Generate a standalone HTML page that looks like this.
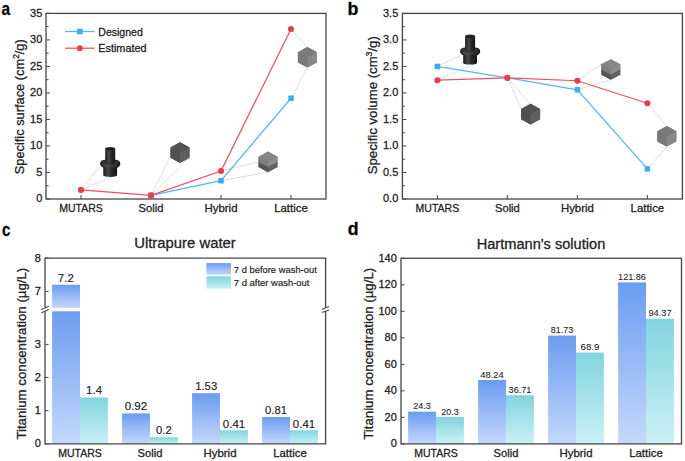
<!DOCTYPE html>
<html><head><meta charset="utf-8"><style>html,body{margin:0;padding:0;background:#fff;}body{width:685px;height:461px;overflow:hidden;font-family:"Liberation Sans",sans-serif;}svg{display:block;} text{stroke:#222;stroke-width:0.28px;}</style></head><body>
<svg width="685" height="461" viewBox="0 0 685 461" font-family="&quot;Liberation Sans&quot;, sans-serif">
<defs><linearGradient id="gb" x1="0" y1="0" x2="0" y2="1"><stop offset="0" stop-color="#6b9cf0"/><stop offset="1" stop-color="#c4d8fc"/></linearGradient><linearGradient id="gt" x1="0" y1="0" x2="0" y2="1"><stop offset="0" stop-color="#82d4df"/><stop offset="1" stop-color="#c9f1f4"/></linearGradient><linearGradient id="cyl" x1="0" y1="0" x2="1" y2="0"><stop offset="0" stop-color="#1c1c1c"/><stop offset="0.35" stop-color="#4a4a4a"/><stop offset="0.6" stop-color="#2a2a2a"/><stop offset="1" stop-color="#141414"/></linearGradient></defs>
<rect width="685" height="461" fill="#fff"/>
<text x="1.5" y="15.4" font-size="17.8" text-anchor="start" font-weight="bold" textLength="8.6" lengthAdjust="spacingAndGlyphs" fill="#000">a</text>
<rect x="46.0" y="13.4" width="280.0" height="185.6" fill="none" stroke="#454545" stroke-width="1.3"/>
<line x1="46.0" y1="199.0" x2="50.0" y2="199.0" stroke="#454545" stroke-width="1.0"/>
<text x="42.3" y="202.4" font-size="11" text-anchor="end" fill="#222">0</text>
<line x1="46.0" y1="185.74285714285713" x2="48.5" y2="185.74285714285713" stroke="#454545" stroke-width="1.0"/>
<line x1="46.0" y1="172.4857142857143" x2="50.0" y2="172.4857142857143" stroke="#454545" stroke-width="1.0"/>
<text x="42.3" y="175.8857142857143" font-size="11" text-anchor="end" fill="#222">5</text>
<line x1="46.0" y1="159.22857142857143" x2="48.5" y2="159.22857142857143" stroke="#454545" stroke-width="1.0"/>
<line x1="46.0" y1="145.9714285714286" x2="50.0" y2="145.9714285714286" stroke="#454545" stroke-width="1.0"/>
<text x="42.3" y="149.3714285714286" font-size="11" text-anchor="end" fill="#222">10</text>
<line x1="46.0" y1="132.71428571428572" x2="48.5" y2="132.71428571428572" stroke="#454545" stroke-width="1.0"/>
<line x1="46.0" y1="119.45714285714286" x2="50.0" y2="119.45714285714286" stroke="#454545" stroke-width="1.0"/>
<text x="42.3" y="122.85714285714286" font-size="11" text-anchor="end" fill="#222">15</text>
<line x1="46.0" y1="106.2" x2="48.5" y2="106.2" stroke="#454545" stroke-width="1.0"/>
<line x1="46.0" y1="92.94285714285715" x2="50.0" y2="92.94285714285715" stroke="#454545" stroke-width="1.0"/>
<text x="42.3" y="96.34285714285716" font-size="11" text-anchor="end" fill="#222">20</text>
<line x1="46.0" y1="79.6857142857143" x2="48.5" y2="79.6857142857143" stroke="#454545" stroke-width="1.0"/>
<line x1="46.0" y1="66.42857142857144" x2="50.0" y2="66.42857142857144" stroke="#454545" stroke-width="1.0"/>
<text x="42.3" y="69.82857142857145" font-size="11" text-anchor="end" fill="#222">25</text>
<line x1="46.0" y1="53.17142857142858" x2="48.5" y2="53.17142857142858" stroke="#454545" stroke-width="1.0"/>
<line x1="46.0" y1="39.91428571428571" x2="50.0" y2="39.91428571428571" stroke="#454545" stroke-width="1.0"/>
<text x="42.3" y="43.31428571428571" font-size="11" text-anchor="end" fill="#222">30</text>
<line x1="46.0" y1="26.657142857142873" x2="48.5" y2="26.657142857142873" stroke="#454545" stroke-width="1.0"/>
<line x1="46.0" y1="13.400000000000006" x2="50.0" y2="13.400000000000006" stroke="#454545" stroke-width="1.0"/>
<text x="42.3" y="16.800000000000004" font-size="11" text-anchor="end" fill="#222">35</text>
<line x1="81.0" y1="199.0" x2="81.0" y2="195.0" stroke="#454545" stroke-width="1.0"/>
<line x1="151.0" y1="199.0" x2="151.0" y2="195.0" stroke="#454545" stroke-width="1.0"/>
<line x1="221.0" y1="199.0" x2="221.0" y2="195.0" stroke="#454545" stroke-width="1.0"/>
<line x1="291.0" y1="199.0" x2="291.0" y2="195.0" stroke="#454545" stroke-width="1.0"/>
<line x1="81.0" y1="189.8790857142857" x2="100.2" y2="166.2" stroke="#b4b4b4" stroke-width="0.7" stroke-dasharray="1.6 0.9"/>
<line x1="81.0" y1="189.8790857142857" x2="111.9" y2="176.9" stroke="#b4b4b4" stroke-width="0.7" stroke-dasharray="1.6 0.9"/>
<line x1="151.0" y1="195.39405714285715" x2="170.8" y2="155.6" stroke="#b4b4b4" stroke-width="0.7" stroke-dasharray="1.6 0.9"/>
<line x1="151.0" y1="195.39405714285715" x2="188.9" y2="157.8" stroke="#b4b4b4" stroke-width="0.7" stroke-dasharray="1.6 0.9"/>
<line x1="221.0" y1="171.0009142857143" x2="258.5" y2="162.0" stroke="#b4b4b4" stroke-width="0.7" stroke-dasharray="1.6 0.9"/>
<line x1="221.0" y1="180.70514285714285" x2="268.0" y2="172.0" stroke="#b4b4b4" stroke-width="0.7" stroke-dasharray="1.6 0.9"/>
<line x1="291.0" y1="28.990399999999994" x2="307.1" y2="47.0" stroke="#b4b4b4" stroke-width="0.7" stroke-dasharray="1.6 0.9"/>
<line x1="291.0" y1="98.24571428571429" x2="307.1" y2="67.9" stroke="#b4b4b4" stroke-width="0.7" stroke-dasharray="1.6 0.9"/>
<rect x="103.30" y="165.80" width="13.8" height="9.5" fill="url(#cyl)"/>
<ellipse cx="110.20" cy="175.30" rx="6.9" ry="1.6" fill="url(#cyl)"/>
<rect x="100.10" y="159.70" width="20.2" height="8.1" rx="5" ry="4" fill="url(#cyl)"/>
<ellipse cx="110.20" cy="162.20" rx="8.6" ry="2.3" fill="#333"/>
<path d="M101.70,164.00 Q110.20,168.40 118.70,164.00" fill="none" stroke="#5a5a5a" stroke-width="0.6"/>
<rect x="105.20" y="148.60" width="10" height="13.4" fill="url(#cyl)"/>
<ellipse cx="110.20" cy="162.00" rx="5" ry="1.4" fill="url(#cyl)"/>
<ellipse cx="110.20" cy="148.70" rx="5" ry="1.8" fill="#2e2e2e"/>
<ellipse cx="110.20" cy="148.90" rx="3.6" ry="1.1" fill="#1e1e1e"/>
<polygon points="180.00,142.30 189.50,147.45 189.50,157.75 180.00,162.90 170.50,157.75 170.50,147.45" fill="#505050"/>
<polygon points="180.00,142.30 189.50,147.45 180.00,152.60 170.50,147.45" fill="#525252"/>
<polygon points="170.50,147.45 180.00,152.60 180.00,162.90 170.50,157.75" fill="#505050"/>
<polygon points="180.00,152.60 189.50,147.45 189.50,157.75 180.00,162.90" fill="#5f5f5f"/>
<polygon points="268.00,151.60 277.50,156.75 277.50,167.05 268.00,172.20 258.50,167.05 258.50,156.75" fill="#7e7e7e"/>
<polygon points="268.00,151.60 277.50,156.75 268.00,161.90 258.50,156.75" fill="#878787"/>
<polygon points="258.50,156.75 268.00,161.90 268.00,167.05 258.50,161.90" fill="#7e7e7e"/>
<polygon points="268.00,161.90 277.50,156.75 277.50,161.90 268.00,167.05" fill="#8c8c8c"/>
<polygon points="258.50,161.90 268.00,167.05 268.00,172.20 258.50,167.05" fill="#555555"/>
<polygon points="268.00,167.05 277.50,161.90 277.50,167.05 268.00,172.20" fill="#626262"/>
<polygon points="307.40,47.00 316.90,52.15 316.90,62.45 307.40,67.60 297.90,62.45 297.90,52.15" fill="#7a7a7a"/>
<polygon points="307.40,47.00 316.90,52.15 307.40,57.30 297.90,52.15" fill="#7a7a7a"/>
<polygon points="297.90,52.15 307.40,57.30 307.40,67.60 297.90,62.45" fill="#787878"/>
<polygon points="307.40,57.30 316.90,52.15 316.90,62.45 307.40,67.60" fill="#888888"/>
<polyline points="151.00,195.39 221.00,180.71 291.00,98.25" fill="none" stroke="#50b8f8" stroke-width="1.25"/>
<rect x="148.25" y="192.64" width="5.5" height="5.5" fill="#3aabf5"/>
<rect x="218.25" y="177.96" width="5.5" height="5.5" fill="#3aabf5"/>
<rect x="288.25" y="95.50" width="5.5" height="5.5" fill="#3aabf5"/>
<polyline points="81.00,189.88 151.00,195.39 221.00,171.00 291.00,28.99" fill="none" stroke="#f0505a" stroke-width="1.25"/>
<circle cx="81.00" cy="189.88" r="3.05" fill="#ef3b45"/>
<circle cx="151.00" cy="195.39" r="3.05" fill="#ef3b45"/>
<circle cx="221.00" cy="171.00" r="3.05" fill="#ef3b45"/>
<circle cx="291.00" cy="28.99" r="3.05" fill="#ef3b45"/>
<text x="81.0" y="212.0" font-size="11" text-anchor="middle" textLength="43.6" lengthAdjust="spacingAndGlyphs" fill="#222">MUTARS</text>
<text x="151.0" y="212.0" font-size="11" text-anchor="middle" textLength="24.8" lengthAdjust="spacingAndGlyphs" fill="#222">Solid</text>
<text x="221.0" y="212.0" font-size="11" text-anchor="middle" textLength="33.0" lengthAdjust="spacingAndGlyphs" fill="#222">Hybrid</text>
<text x="291.0" y="212.0" font-size="11" text-anchor="middle" textLength="33.6" lengthAdjust="spacingAndGlyphs" fill="#222">Lattice</text>
<line x1="65" y1="31.5" x2="94.7" y2="31.5" stroke="#50b8f8" stroke-width="1.25"/>
<rect x="77.10000000000001" y="28.7" width="5.6" height="5.6" fill="#3aabf5"/>
<line x1="65" y1="48.2" x2="94.7" y2="48.2" stroke="#f0505a" stroke-width="1.25"/>
<circle cx="79.9" cy="48.2" r="2.9" fill="#ef3b45"/>
<text x="98.3" y="35.7" font-size="11" text-anchor="start" textLength="44.5" lengthAdjust="spacingAndGlyphs" fill="#222">Designed</text>
<text x="98.3" y="52.4" font-size="11" text-anchor="start" textLength="48.2" lengthAdjust="spacingAndGlyphs" fill="#222">Estimated</text>
<text transform="translate(23.7,106.75) rotate(-90)" font-size="13" text-anchor="middle" textLength="135" lengthAdjust="spacingAndGlyphs" fill="#222">Specific surface (cm<tspan font-size="8.5" dy="-4.8">2</tspan><tspan dy="4.8">/g)</tspan></text>
<text x="347.4" y="14.8" font-size="17.8" text-anchor="start" font-weight="bold" fill="#000">b</text>
<rect x="402.4" y="13.4" width="280.0" height="185.6" fill="none" stroke="#454545" stroke-width="1.3"/>
<line x1="402.4" y1="199.0" x2="406.4" y2="199.0" stroke="#454545" stroke-width="1.0"/>
<text x="398.3" y="202.4" font-size="11" text-anchor="end" fill="#222">0.0</text>
<line x1="402.4" y1="185.74285714285713" x2="404.9" y2="185.74285714285713" stroke="#454545" stroke-width="1.0"/>
<line x1="402.4" y1="172.4857142857143" x2="406.4" y2="172.4857142857143" stroke="#454545" stroke-width="1.0"/>
<text x="398.3" y="175.8857142857143" font-size="11" text-anchor="end" fill="#222">0.5</text>
<line x1="402.4" y1="159.22857142857143" x2="404.9" y2="159.22857142857143" stroke="#454545" stroke-width="1.0"/>
<line x1="402.4" y1="145.9714285714286" x2="406.4" y2="145.9714285714286" stroke="#454545" stroke-width="1.0"/>
<text x="398.3" y="149.3714285714286" font-size="11" text-anchor="end" fill="#222">1.0</text>
<line x1="402.4" y1="132.71428571428572" x2="404.9" y2="132.71428571428572" stroke="#454545" stroke-width="1.0"/>
<line x1="402.4" y1="119.45714285714286" x2="406.4" y2="119.45714285714286" stroke="#454545" stroke-width="1.0"/>
<text x="398.3" y="122.85714285714286" font-size="11" text-anchor="end" fill="#222">1.5</text>
<line x1="402.4" y1="106.2" x2="404.9" y2="106.2" stroke="#454545" stroke-width="1.0"/>
<line x1="402.4" y1="92.94285714285715" x2="406.4" y2="92.94285714285715" stroke="#454545" stroke-width="1.0"/>
<text x="398.3" y="96.34285714285716" font-size="11" text-anchor="end" fill="#222">2.0</text>
<line x1="402.4" y1="79.6857142857143" x2="404.9" y2="79.6857142857143" stroke="#454545" stroke-width="1.0"/>
<line x1="402.4" y1="66.42857142857144" x2="406.4" y2="66.42857142857144" stroke="#454545" stroke-width="1.0"/>
<text x="398.3" y="69.82857142857145" font-size="11" text-anchor="end" fill="#222">2.5</text>
<line x1="402.4" y1="53.17142857142858" x2="404.9" y2="53.17142857142858" stroke="#454545" stroke-width="1.0"/>
<line x1="402.4" y1="39.91428571428571" x2="406.4" y2="39.91428571428571" stroke="#454545" stroke-width="1.0"/>
<text x="398.3" y="43.31428571428571" font-size="11" text-anchor="end" fill="#222">3.0</text>
<line x1="402.4" y1="26.657142857142873" x2="404.9" y2="26.657142857142873" stroke="#454545" stroke-width="1.0"/>
<line x1="402.4" y1="13.400000000000006" x2="406.4" y2="13.400000000000006" stroke="#454545" stroke-width="1.0"/>
<text x="398.3" y="16.800000000000004" font-size="11" text-anchor="end" fill="#222">3.5</text>
<line x1="437.4" y1="199.0" x2="437.4" y2="195.0" stroke="#454545" stroke-width="1.0"/>
<line x1="507.4" y1="199.0" x2="507.4" y2="195.0" stroke="#454545" stroke-width="1.0"/>
<line x1="577.4" y1="199.0" x2="577.4" y2="195.0" stroke="#454545" stroke-width="1.0"/>
<line x1="647.4" y1="199.0" x2="647.4" y2="195.0" stroke="#454545" stroke-width="1.0"/>
<line x1="437.4" y1="66.42857142857144" x2="461.0" y2="55.5" stroke="#b4b4b4" stroke-width="0.7" stroke-dasharray="1.6 0.9"/>
<line x1="437.4" y1="80.216" x2="474.5" y2="64.0" stroke="#b4b4b4" stroke-width="0.7" stroke-dasharray="1.6 0.9"/>
<line x1="507.4" y1="77.82971428571429" x2="521.5" y2="109.0" stroke="#b4b4b4" stroke-width="0.7" stroke-dasharray="1.6 0.9"/>
<line x1="507.4" y1="77.82971428571429" x2="530.3" y2="104.0" stroke="#b4b4b4" stroke-width="0.7" stroke-dasharray="1.6 0.9"/>
<line x1="577.4" y1="80.74628571428572" x2="601.5" y2="64.2" stroke="#b4b4b4" stroke-width="0.7" stroke-dasharray="1.6 0.9"/>
<line x1="577.4" y1="89.76114285714286" x2="610.9" y2="79.7" stroke="#b4b4b4" stroke-width="0.7" stroke-dasharray="1.6 0.9"/>
<line x1="647.4" y1="103.2304" x2="667.0" y2="126.6" stroke="#b4b4b4" stroke-width="0.7" stroke-dasharray="1.6 0.9"/>
<line x1="647.4" y1="168.93280000000001" x2="667.0" y2="146.6" stroke="#b4b4b4" stroke-width="0.7" stroke-dasharray="1.6 0.9"/>
<rect x="463.20" y="53.50" width="13.8" height="9.5" fill="url(#cyl)"/>
<ellipse cx="470.10" cy="63.00" rx="6.9" ry="1.6" fill="url(#cyl)"/>
<rect x="460.00" y="47.40" width="20.2" height="8.1" rx="5" ry="4" fill="url(#cyl)"/>
<ellipse cx="470.10" cy="49.90" rx="8.6" ry="2.3" fill="#333"/>
<path d="M461.60,51.70 Q470.10,56.10 478.60,51.70" fill="none" stroke="#5a5a5a" stroke-width="0.6"/>
<rect x="465.10" y="36.30" width="10" height="13.4" fill="url(#cyl)"/>
<ellipse cx="470.10" cy="49.70" rx="5" ry="1.4" fill="url(#cyl)"/>
<ellipse cx="470.10" cy="36.40" rx="5" ry="1.8" fill="#2e2e2e"/>
<ellipse cx="470.10" cy="36.60" rx="3.6" ry="1.1" fill="#1e1e1e"/>
<polygon points="530.60,103.80 540.10,108.95 540.10,119.25 530.60,124.40 521.10,119.25 521.10,108.95" fill="#505050"/>
<polygon points="530.60,103.80 540.10,108.95 530.60,114.10 521.10,108.95" fill="#525252"/>
<polygon points="521.10,108.95 530.60,114.10 530.60,124.40 521.10,119.25" fill="#505050"/>
<polygon points="530.60,114.10 540.10,108.95 540.10,119.25 530.60,124.40" fill="#5f5f5f"/>
<polygon points="610.80,59.20 620.30,64.35 620.30,74.65 610.80,79.80 601.30,74.65 601.30,64.35" fill="#7e7e7e"/>
<polygon points="610.80,59.20 620.30,64.35 610.80,69.50 601.30,64.35" fill="#878787"/>
<polygon points="601.30,64.35 610.80,69.50 610.80,74.65 601.30,69.50" fill="#7e7e7e"/>
<polygon points="610.80,69.50 620.30,64.35 620.30,69.50 610.80,74.65" fill="#8c8c8c"/>
<polygon points="601.30,69.50 610.80,74.65 610.80,79.80 601.30,74.65" fill="#555555"/>
<polygon points="610.80,74.65 620.30,69.50 620.30,74.65 610.80,79.80" fill="#626262"/>
<polygon points="666.80,126.00 676.30,131.15 676.30,141.45 666.80,146.60 657.30,141.45 657.30,131.15" fill="#7a7a7a"/>
<polygon points="666.80,126.00 676.30,131.15 666.80,136.30 657.30,131.15" fill="#7a7a7a"/>
<polygon points="657.30,131.15 666.80,136.30 666.80,146.60 657.30,141.45" fill="#787878"/>
<polygon points="666.80,136.30 676.30,131.15 676.30,141.45 666.80,146.60" fill="#888888"/>
<polyline points="437.40,66.43 507.40,77.83 577.40,89.76 647.40,168.93" fill="none" stroke="#50b8f8" stroke-width="1.25"/>
<rect x="434.65" y="63.68" width="5.5" height="5.5" fill="#3aabf5"/>
<rect x="504.65" y="75.08" width="5.5" height="5.5" fill="#3aabf5"/>
<rect x="574.65" y="87.01" width="5.5" height="5.5" fill="#3aabf5"/>
<rect x="644.65" y="166.18" width="5.5" height="5.5" fill="#3aabf5"/>
<polyline points="437.40,80.22 507.40,77.83 577.40,80.75 647.40,103.23" fill="none" stroke="#f0505a" stroke-width="1.25"/>
<circle cx="437.40" cy="80.22" r="3.05" fill="#ef3b45"/>
<circle cx="507.40" cy="77.83" r="3.05" fill="#ef3b45"/>
<circle cx="577.40" cy="80.75" r="3.05" fill="#ef3b45"/>
<circle cx="647.40" cy="103.23" r="3.05" fill="#ef3b45"/>
<text x="437.4" y="212.0" font-size="11" text-anchor="middle" textLength="43.6" lengthAdjust="spacingAndGlyphs" fill="#222">MUTARS</text>
<text x="507.4" y="212.0" font-size="11" text-anchor="middle" textLength="24.8" lengthAdjust="spacingAndGlyphs" fill="#222">Solid</text>
<text x="577.4" y="212.0" font-size="11" text-anchor="middle" textLength="33.0" lengthAdjust="spacingAndGlyphs" fill="#222">Hybrid</text>
<text x="647.4" y="212.0" font-size="11" text-anchor="middle" textLength="33.6" lengthAdjust="spacingAndGlyphs" fill="#222">Lattice</text>
<text transform="translate(376.9,105.25) rotate(-90)" font-size="13" text-anchor="middle" textLength="138.1" lengthAdjust="spacingAndGlyphs" fill="#222">Specific volume (cm<tspan font-size="8.5" dy="-4.8">3</tspan><tspan dy="4.8">/g)</tspan></text>
<text x="2.0" y="236.3" font-size="17.8" text-anchor="start" font-weight="bold" textLength="8.4" lengthAdjust="spacingAndGlyphs" fill="#000">c</text>
<text x="185.0" y="248.2" font-size="14" text-anchor="middle" textLength="101.6" lengthAdjust="spacingAndGlyphs" fill="#222">Ultrapure water</text>
<rect x="52.10" y="284.77" width="27.9" height="23.13" fill="url(#gb)"/>
<rect x="52.10" y="311.3" width="27.9" height="132.60" fill="url(#gb)"/>
<rect x="80.00" y="397.46" width="27.9" height="46.44" fill="url(#gt)"/>
<rect x="122.10" y="413.38" width="27.9" height="30.52" fill="url(#gb)"/>
<rect x="150.00" y="437.27" width="27.9" height="6.63" fill="url(#gt)"/>
<rect x="192.10" y="393.15" width="27.9" height="50.75" fill="url(#gb)"/>
<rect x="220.00" y="430.30" width="27.9" height="13.60" fill="url(#gt)"/>
<rect x="262.10" y="417.03" width="27.9" height="26.87" fill="url(#gb)"/>
<rect x="290.00" y="430.30" width="27.9" height="13.60" fill="url(#gt)"/>
<text x="65.8" y="282.2" font-size="10.3" text-anchor="middle" textLength="16.0" lengthAdjust="spacingAndGlyphs" fill="#222" style="stroke-width:0.15px">7.2</text>
<text x="94.1" y="394.3" font-size="10.3" text-anchor="middle" textLength="16.0" lengthAdjust="spacingAndGlyphs" fill="#222" style="stroke-width:0.15px">1.4</text>
<text x="136.0" y="410.0" font-size="10.3" text-anchor="middle" textLength="22.6" lengthAdjust="spacingAndGlyphs" fill="#222" style="stroke-width:0.15px">0.92</text>
<text x="163.9" y="434.1" font-size="10.3" text-anchor="middle" textLength="15.6" lengthAdjust="spacingAndGlyphs" fill="#222" style="stroke-width:0.15px">0.2</text>
<text x="206.2" y="390.0" font-size="10.3" text-anchor="middle" textLength="22.0" lengthAdjust="spacingAndGlyphs" fill="#222" style="stroke-width:0.15px">1.53</text>
<text x="234.0" y="427.7" font-size="10.3" text-anchor="middle" textLength="22.4" lengthAdjust="spacingAndGlyphs" fill="#222" style="stroke-width:0.15px">0.41</text>
<text x="276.0" y="414.2" font-size="10.3" text-anchor="middle" textLength="21.8" lengthAdjust="spacingAndGlyphs" fill="#222" style="stroke-width:0.15px">0.81</text>
<text x="304.0" y="427.7" font-size="10.3" text-anchor="middle" textLength="22.4" lengthAdjust="spacingAndGlyphs" fill="#222" style="stroke-width:0.15px">0.41</text>
<path d="M45.0,307.1 L45.0,443.9 L325.6,443.9 L325.6,311.3 M325.6,307.4 L325.6,258.2 L45.0,258.2 L45.0,307.1" fill="none" stroke="#454545" stroke-width="1.3"/>
<rect x="44.0" y="307.2" width="2" height="4" fill="#fff"/>
<line x1="41.3" y1="309.5" x2="48.8" y2="306.3" stroke="#454545" stroke-width="1.1"/>
<line x1="41.3" y1="312.7" x2="48.8" y2="309.6" stroke="#454545" stroke-width="1.1"/>
<line x1="322.0" y1="309.4" x2="328.9" y2="306.5" stroke="#454545" stroke-width="1.1"/>
<line x1="322.0" y1="312.4" x2="328.9" y2="310.0" stroke="#454545" stroke-width="1.1"/>
<line x1="45.0" y1="443.9" x2="48.5" y2="443.9" stroke="#454545" stroke-width="1.0"/>
<text x="40.8" y="447.29999999999995" font-size="11" text-anchor="end" fill="#222">0</text>
<line x1="45.0" y1="410.72999999999996" x2="48.5" y2="410.72999999999996" stroke="#454545" stroke-width="1.0"/>
<text x="40.8" y="414.12999999999994" font-size="11" text-anchor="end" fill="#222">1</text>
<line x1="45.0" y1="377.55999999999995" x2="48.5" y2="377.55999999999995" stroke="#454545" stroke-width="1.0"/>
<text x="40.8" y="380.9599999999999" font-size="11" text-anchor="end" fill="#222">2</text>
<line x1="45.0" y1="344.39" x2="48.5" y2="344.39" stroke="#454545" stroke-width="1.0"/>
<text x="40.8" y="347.78999999999996" font-size="11" text-anchor="end" fill="#222">3</text>
<line x1="45.0" y1="291.4" x2="48.5" y2="291.4" stroke="#454545" stroke-width="1.0"/>
<text x="40.8" y="294.79999999999995" font-size="11" text-anchor="end" fill="#222">7</text>
<line x1="45.0" y1="258.22999999999996" x2="48.5" y2="258.22999999999996" stroke="#454545" stroke-width="1.0"/>
<text x="40.8" y="261.62999999999994" font-size="11" text-anchor="end" fill="#222">8</text>
<text x="80.0" y="456.5" font-size="11" text-anchor="middle" textLength="43.6" lengthAdjust="spacingAndGlyphs" fill="#222">MUTARS</text>
<text x="150.0" y="456.5" font-size="11" text-anchor="middle" textLength="24.8" lengthAdjust="spacingAndGlyphs" fill="#222">Solid</text>
<text x="220.0" y="456.5" font-size="11" text-anchor="middle" textLength="33.0" lengthAdjust="spacingAndGlyphs" fill="#222">Hybrid</text>
<text x="290.0" y="456.5" font-size="11" text-anchor="middle" textLength="33.6" lengthAdjust="spacingAndGlyphs" fill="#222">Lattice</text>
<rect x="206.4" y="263.1" width="24.6" height="11.7" fill="url(#gb)"/>
<rect x="206.4" y="276.3" width="24.6" height="12.4" fill="url(#gt)"/>
<text x="233.8" y="272.6" font-size="9.8" text-anchor="start" textLength="83.0" lengthAdjust="spacingAndGlyphs" fill="#222" style="stroke-width:0.18px">7 d before wash-out</text>
<text x="233.8" y="285.7" font-size="9.8" text-anchor="start" textLength="75.7" lengthAdjust="spacingAndGlyphs" fill="#222" style="stroke-width:0.18px">7 d after wash-out</text>
<text transform="translate(26.0,353.7) rotate(-90)" font-size="13" text-anchor="middle" textLength="171.8" lengthAdjust="spacingAndGlyphs" fill="#222">Titanium concentration (µg/L)</text>
<text x="347.8" y="235.3" font-size="17.8" text-anchor="start" font-weight="bold" fill="#000">d</text>
<text x="541.0" y="248.5" font-size="14" text-anchor="middle" textLength="128.6" lengthAdjust="spacingAndGlyphs" fill="#222">Hartmann's solution</text>
<rect x="408.10" y="411.69" width="27.9" height="32.21" fill="url(#gb)"/>
<rect x="436.00" y="416.99" width="27.9" height="26.91" fill="url(#gt)"/>
<text x="422.0" y="409.38514285714285" font-size="9" text-anchor="middle" textLength="17.6" lengthAdjust="spacingAndGlyphs" fill="#222" style="stroke-width:0.08px">24.3</text>
<text x="450.0" y="414.688" font-size="9" text-anchor="middle" textLength="17.5" lengthAdjust="spacingAndGlyphs" fill="#222" style="stroke-width:0.08px">20.3</text>
<rect x="478.10" y="379.95" width="27.9" height="63.95" fill="url(#gb)"/>
<rect x="506.00" y="395.23" width="27.9" height="48.67" fill="url(#gt)"/>
<text x="492.0" y="377.6475428571428" font-size="9" text-anchor="middle" textLength="23.3" lengthAdjust="spacingAndGlyphs" fill="#222" style="stroke-width:0.08px">48.24</text>
<text x="520.0" y="392.93302857142857" font-size="9" text-anchor="middle" textLength="22.8" lengthAdjust="spacingAndGlyphs" fill="#222" style="stroke-width:0.08px">36.71</text>
<rect x="548.10" y="335.55" width="27.9" height="108.35" fill="url(#gb)"/>
<rect x="576.00" y="352.56" width="27.9" height="91.34" fill="url(#gt)"/>
<text x="562.0" y="333.2493714285714" font-size="9" text-anchor="middle" textLength="22.4" lengthAdjust="spacingAndGlyphs" fill="#222" style="stroke-width:0.08px">81.73</text>
<text x="590.0" y="350.2582857142857" font-size="9" text-anchor="middle" textLength="18.8" lengthAdjust="spacingAndGlyphs" fill="#222" style="stroke-width:0.08px">68.9</text>
<rect x="618.10" y="282.35" width="27.9" height="161.55" fill="url(#gb)"/>
<rect x="646.00" y="318.79" width="27.9" height="125.11" fill="url(#gt)"/>
<text x="632.0" y="280.04845714285716" font-size="9" text-anchor="middle" textLength="27.8" lengthAdjust="spacingAndGlyphs" fill="#222" style="stroke-width:0.08px">121.86</text>
<text x="660.0" y="316.49234285714283" font-size="9" text-anchor="middle" textLength="23.0" lengthAdjust="spacingAndGlyphs" fill="#222" style="stroke-width:0.08px">94.37</text>
<rect x="401.0" y="258.3" width="280.5" height="185.59999999999997" fill="none" stroke="#454545" stroke-width="1.3"/>
<line x1="401.0" y1="443.9" x2="404.5" y2="443.9" stroke="#454545" stroke-width="1.0"/>
<text x="396.8" y="447.29999999999995" font-size="11" text-anchor="end" fill="#222">0</text>
<line x1="401.0" y1="417.38571428571424" x2="404.5" y2="417.38571428571424" stroke="#454545" stroke-width="1.0"/>
<text x="396.8" y="420.7857142857142" font-size="11" text-anchor="end" fill="#222">20</text>
<line x1="401.0" y1="390.87142857142857" x2="404.5" y2="390.87142857142857" stroke="#454545" stroke-width="1.0"/>
<text x="396.8" y="394.27142857142854" font-size="11" text-anchor="end" fill="#222">40</text>
<line x1="401.0" y1="364.35714285714283" x2="404.5" y2="364.35714285714283" stroke="#454545" stroke-width="1.0"/>
<text x="396.8" y="367.7571428571428" font-size="11" text-anchor="end" fill="#222">60</text>
<line x1="401.0" y1="337.84285714285716" x2="404.5" y2="337.84285714285716" stroke="#454545" stroke-width="1.0"/>
<text x="396.8" y="341.24285714285713" font-size="11" text-anchor="end" fill="#222">80</text>
<line x1="401.0" y1="311.3285714285714" x2="404.5" y2="311.3285714285714" stroke="#454545" stroke-width="1.0"/>
<text x="396.8" y="314.7285714285714" font-size="11" text-anchor="end" fill="#222">100</text>
<line x1="401.0" y1="284.8142857142857" x2="404.5" y2="284.8142857142857" stroke="#454545" stroke-width="1.0"/>
<text x="396.8" y="288.21428571428567" font-size="11" text-anchor="end" fill="#222">120</text>
<line x1="401.0" y1="258.3" x2="404.5" y2="258.3" stroke="#454545" stroke-width="1.0"/>
<text x="396.8" y="261.7" font-size="11" text-anchor="end" fill="#222">140</text>
<text x="436.0" y="456.5" font-size="11" text-anchor="middle" textLength="43.6" lengthAdjust="spacingAndGlyphs" fill="#222">MUTARS</text>
<text x="506.0" y="456.5" font-size="11" text-anchor="middle" textLength="24.8" lengthAdjust="spacingAndGlyphs" fill="#222">Solid</text>
<text x="576.0" y="456.5" font-size="11" text-anchor="middle" textLength="33.0" lengthAdjust="spacingAndGlyphs" fill="#222">Hybrid</text>
<text x="646.0" y="456.5" font-size="11" text-anchor="middle" textLength="33.6" lengthAdjust="spacingAndGlyphs" fill="#222">Lattice</text>
<text transform="translate(373.1,353.8) rotate(-90)" font-size="13" text-anchor="middle" textLength="172" lengthAdjust="spacingAndGlyphs" fill="#222">Titanium concentration (µg/L)</text>
</svg>
</body></html>
